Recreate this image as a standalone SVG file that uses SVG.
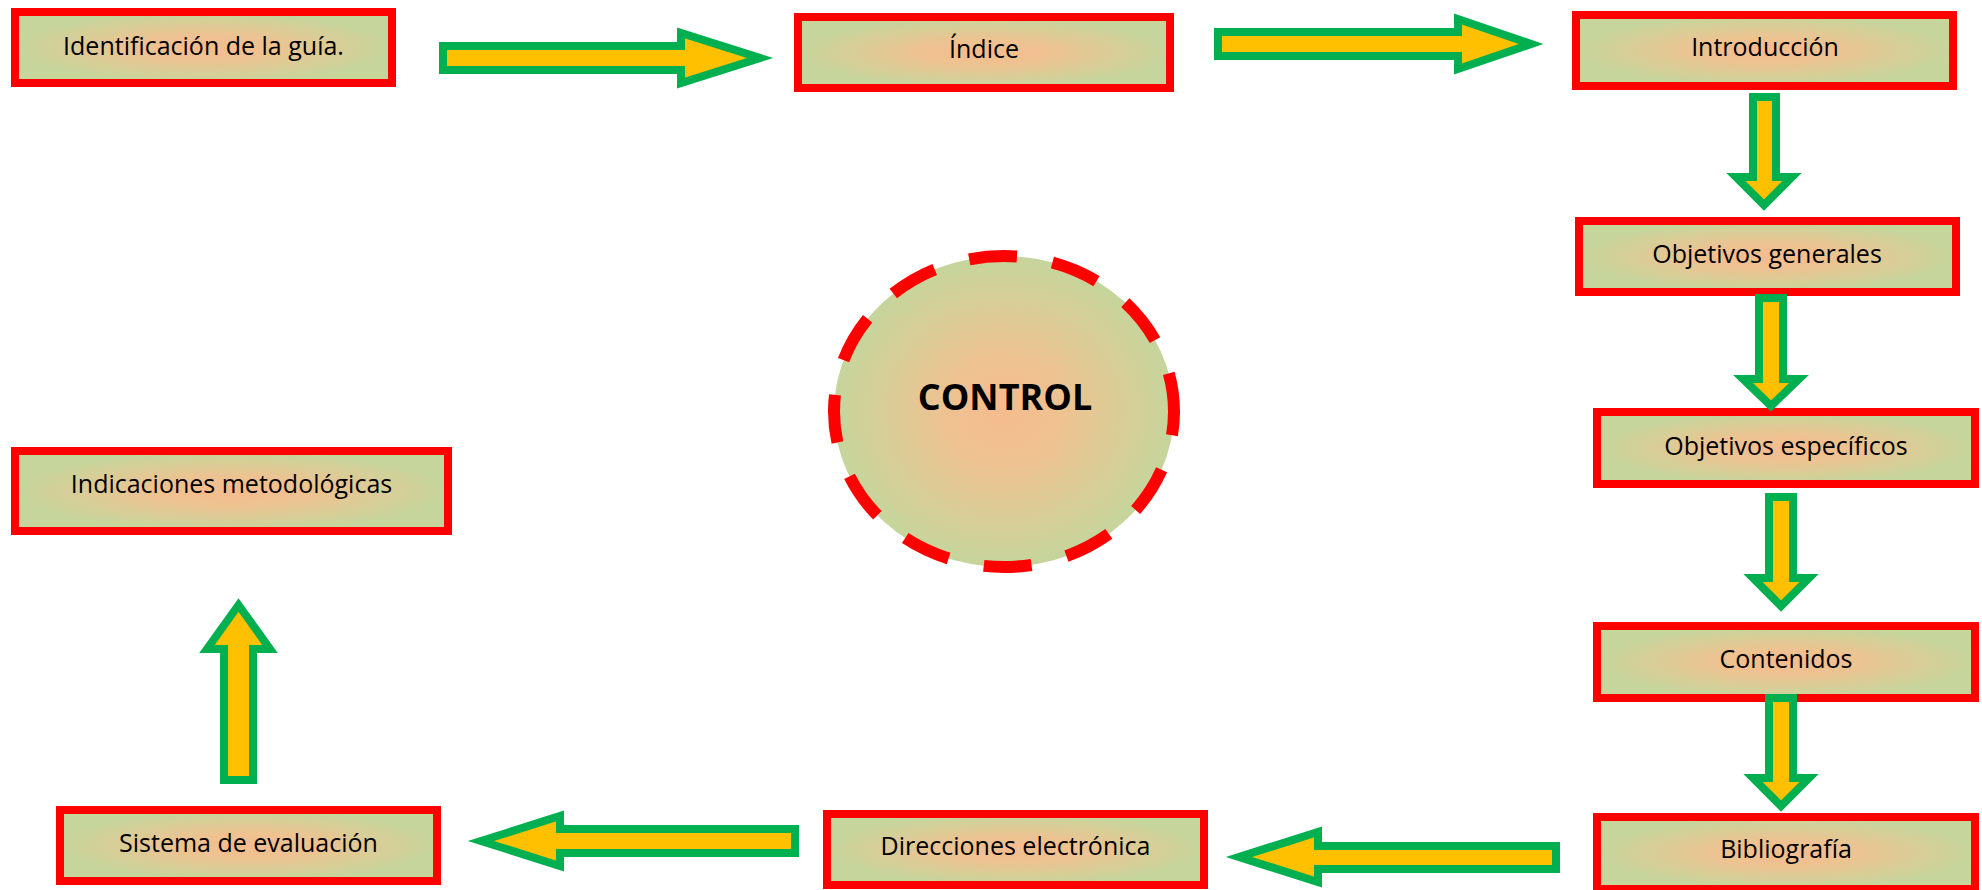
<svg xmlns="http://www.w3.org/2000/svg" width="1982" height="890" viewBox="0 0 1982 890">
<defs>
<radialGradient id="fillG" cx="50%" cy="50%" r="50%">
<stop offset="0" stop-color="#F5BC8E"/>
<stop offset="0.35" stop-color="#EEC291"/>
<stop offset="0.75" stop-color="#D6CF98"/>
<stop offset="1" stop-color="#C5D59C"/>
</radialGradient>
<style>
.box{fill:url(#fillG);stroke:#FF0000;stroke-width:8}
.lbl{font-family:"Open Sans","Noto Sans","Liberation Sans",sans-serif;font-size:25px;fill:#000;text-anchor:middle}
.arr{fill:#FFC000;stroke:#00B050;stroke-width:8;stroke-linejoin:miter;stroke-miterlimit:10}
.ctl{fill:url(#fillG);stroke:#FF0000;stroke-width:12;stroke-dasharray:48 36;stroke-dashoffset:24}
.ctltxt{font-family:"Open Sans","Noto Sans","Liberation Sans",sans-serif;font-size:36px;font-weight:bold;fill:#000;text-anchor:middle}
</style>
</defs>
<rect width="1982" height="890" fill="#FFFFFF"/>
<g id="n-identificacion"><rect class="box" x="15" y="12" width="377" height="71"/><text class="lbl" x="203.5" y="55">Identificación de la guía.</text></g>
<g id="n-indice"><rect class="box" x="798" y="17" width="372" height="71"/><text class="lbl" x="984" y="58">Índice</text></g>
<g id="n-introduccion"><rect class="box" x="1576" y="15" width="377" height="71"/><text class="lbl" x="1765" y="56">Introducción</text></g>
<g id="n-objgen"><rect class="box" x="1579" y="221" width="377" height="71"/><text class="lbl" x="1767" y="263">Objetivos generales</text></g>
<g id="n-objesp"><rect class="box" x="1597" y="412" width="378" height="72"/><text class="lbl" x="1786" y="455">Objetivos específicos</text></g>
<g id="n-contenidos"><rect class="box" x="1597" y="626" width="378" height="72"/><text class="lbl" x="1786" y="668">Contenidos</text></g>
<g id="n-bibliografia"><rect class="box" x="1597" y="817" width="378" height="72"/><text class="lbl" x="1786" y="858">Bibliografía</text></g>
<g id="n-direcciones"><rect class="box" x="827" y="814" width="377" height="71"/><text class="lbl" x="1015.5" y="855">Direcciones electrónica</text></g>
<g id="n-sistema"><rect class="box" x="60" y="810" width="377" height="71"/><text class="lbl" x="248.5" y="852">Sistema de evaluación</text></g>
<g id="n-indicaciones"><rect class="box" x="15" y="451" width="433" height="80"/><text class="lbl" x="231.5" y="493">Indicaciones metodológicas</text></g>
<g id="n-control"><ellipse class="ctl" cx="1004" cy="411.5" rx="170" ry="155.5"/><text class="ctltxt" x="1005" y="410">CONTROL</text></g>
<g id="connectors">
<path class="arr" d="M443,46 H681 V33 L760,58 L681,83 V70 H443 Z"/>
<path class="arr" d="M1218,32 H1458 V19 L1531,44 L1458,69 V56 H1218 Z"/>
<path class="arr" d="M1753,97 H1776 V177 H1792 L1764,205 L1736,177 H1753 Z"/>
<path class="arr" d="M1759,298 H1783 V379 H1799 L1771,406 L1743,379 H1759 Z"/>
<path class="arr" d="M1769,497 H1793 V578 H1809 L1781,606 L1753,578 H1769 Z"/>
<path class="arr" d="M1769,698 H1793 V778 H1809 L1781,806 L1753,778 H1769 Z"/>
<path class="arr" d="M1556,846 H1318 V832 L1239,857 L1318,882 V869 H1556 Z"/>
<path class="arr" d="M795,829 H560 V816 L481,841 L560,866 V853 H795 Z"/>
<path class="arr" d="M224,780 V649 H207 L238.5,605 L270,649 H253 V780 Z"/>
</g>
</svg>
